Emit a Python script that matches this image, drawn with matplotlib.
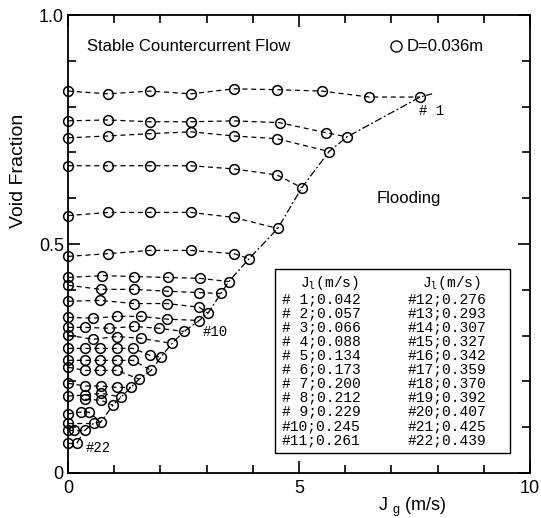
import matplotlib.pyplot as plt
from matplotlib.ticker import MultipleLocator, FixedLocator, FixedFormatter

# gas flux Jg (m/s) and void fraction for each liquid flux run
jg1 = [0, 0.87, 1.77, 2.66, 3.59, 4.52, 5.50, 6.52, 7.62]
a1 = [0.834, 0.828, 0.834, 0.828, 0.839, 0.837, 0.834, 0.821, 0.821]
jg2 = [0, 0.87, 1.77, 2.66, 3.59, 4.58, 5.59, 6.04]
a2 = [0.769, 0.771, 0.767, 0.767, 0.769, 0.765, 0.743, 0.734]
jg3 = [0, 0.87, 1.77, 2.66, 3.59, 4.52, 5.65]
a3 = [0.732, 0.736, 0.741, 0.745, 0.736, 0.730, 0.702]
jg4 = [0, 0.87, 1.77, 2.66, 3.59, 4.52, 5.06]
a4 = [0.671, 0.671, 0.671, 0.671, 0.664, 0.651, 0.623]
jg5 = [0, 0.87, 1.77, 2.66, 3.59, 4.54]
a5 = [0.562, 0.569, 0.569, 0.569, 0.558, 0.534]
jg6 = [0, 0.87, 1.77, 2.66, 3.59, 3.92]
a6 = [0.473, 0.479, 0.486, 0.486, 0.479, 0.468]
jg7 = [0, 0.74, 1.43, 2.16, 2.86, 3.48]
a7 = [0.427, 0.431, 0.429, 0.427, 0.425, 0.418]
jg8 = [0, 0.71, 1.43, 2.14, 2.84, 3.31]
a8 = [0.410, 0.401, 0.401, 0.397, 0.394, 0.392]
jg9 = [0, 0.69, 1.43, 2.14, 2.84, 3.03]
a9 = [0.375, 0.377, 0.370, 0.370, 0.362, 0.349]
jg10 = [0, 0.54, 1.06, 1.58, 2.14, 2.84]
a10 = [0.340, 0.338, 0.342, 0.342, 0.336, 0.333]
jg11 = [0, 0.37, 0.89, 1.43, 1.97, 2.51]
a11 = [0.318, 0.318, 0.316, 0.320, 0.316, 0.309]
jg12 = [0, 0.54, 1.06, 1.58, 2.25]
a12 = [0.301, 0.292, 0.298, 0.294, 0.283]
jg13 = [0, 0.37, 0.69, 1.06, 1.41, 1.77, 2.01]
a13 = [0.272, 0.272, 0.272, 0.272, 0.272, 0.257, 0.253]
jg14 = [0, 0.37, 0.69, 1.06, 1.41, 1.80]
a14 = [0.246, 0.246, 0.246, 0.246, 0.246, 0.224]
jg15 = [0, 0.37, 0.69, 1.06, 1.54]
a15 = [0.231, 0.224, 0.224, 0.224, 0.205]
jg16 = [0, 0.37, 0.71, 1.06, 1.36]
a16 = [0.196, 0.190, 0.190, 0.187, 0.187]
jg17 = [0, 0.37, 0.71, 1.15]
a17 = [0.168, 0.170, 0.174, 0.166]
jg18 = [0.37, 0.71, 0.97]
a18 = [0.161, 0.159, 0.148]
jg19 = [0, 0.28, 0.45, 0.71]
a19 = [0.129, 0.133, 0.133, 0.111]
jg20 = [0, 0.56]
a20 = [0.109, 0.109]
jg21 = [0, 0.13, 0.37]
a21 = [0.094, 0.094, 0.094]
jg22 = [0, 0.19]
a22 = [0.065, 0.065]

# end of the flooding curve beyond run #1
flood_end_jg = 7.88
flood_end_a = 0.828

run_ids = list(range(1, 23))
jl = [0.042, 0.057, 0.066, 0.088, 0.134, 0.173, 0.200, 0.212, 0.229, 0.245, 0.261,
      0.276, 0.293, 0.307, 0.327, 0.342, 0.359, 0.370, 0.392, 0.407, 0.425, 0.439]

runs = [(jg1, a1), (jg2, a2), (jg3, a3), (jg4, a4), (jg5, a5), (jg6, a6), (jg7, a7),
        (jg8, a8), (jg9, a9), (jg10, a10), (jg11, a11), (jg12, a12), (jg13, a13),
        (jg14, a14), (jg15, a15), (jg16, a16), (jg17, a17), (jg18, a18), (jg19, a19),
        (jg20, a20), (jg21, a21), (jg22, a22)]

plt.rcParams['font.family'] = ['Liberation Sans', 'DejaVu Sans']
mono = 'Liberation Mono'

fig = plt.figure(figsize=(5.41, 5.18), dpi=100)
ax = fig.add_axes([0.1257, 0.0869, 0.854, 0.884])

for x, y in runs:
    ax.plot(x, y, color='black', lw=0.9, ls=(0, (4, 3)), marker='o', ms=7,
            mfc='none', mec='black', mew=1.1, clip_on=False, zorder=3)

# flooding curve through the last point of every run
fx = [r[0][-1] for r in runs][::-1] + [flood_end_jg]
fy = [r[1][-1] for r in runs][::-1] + [flood_end_a]
ax.plot(fx, fy, color='black', lw=0.9, ls=(0, (6, 2, 1.5, 2)), zorder=2)

ax.set_xlim(0, 10)
ax.set_ylim(0, 1)
ax.xaxis.set_major_locator(FixedLocator([0, 5, 10]))
ax.xaxis.set_major_formatter(FixedFormatter(['0', '5', '10']))
ax.xaxis.set_minor_locator(MultipleLocator(1))
ax.yaxis.set_major_locator(FixedLocator([0, 0.5, 1.0]))
ax.yaxis.set_major_formatter(FixedFormatter(['0', '0.5', '1.0']))
ax.yaxis.set_minor_locator(MultipleLocator(0.1))
ax.tick_params(which='both', direction='in', top=True, right=True, width=1.2)
ax.tick_params(which='major', length=8.5, labelsize=13)
ax.tick_params(axis='x', which='major', pad=5)
ax.tick_params(axis='y', which='major', pad=3)
ax.tick_params(which='minor', length=6)
for s in ax.spines.values():
    s.set_linewidth(1.3)

ax.set_ylabel('Void Fraction', fontsize=14)
ax.yaxis.set_label_coords(-0.089, 0.66)
ax.set_xlabel(r'J $_\mathregular{g}$ (m/s)', fontsize=13)
ax.xaxis.set_label_coords(0.745, -0.05)

ax.text(0.41, 0.932, 'Stable Countercurrent Flow', fontsize=12, va='center')
ax.plot([7.1], [0.932], marker='o', ms=8, mfc='none', mec='black', mew=1.0)
ax.text(7.32, 0.932, 'D=0.036m', fontsize=12, va='center')
ax.text(6.67, 0.60, 'Flooding', fontsize=12, va='center')

ax.text(7.6, 0.79, '# 1', family=mono, fontsize=10, va='center')
ax.text(2.92, 0.308, '#10', family=mono, fontsize=10, va='center')
ax.text(0.39, 0.055, '#22', family=mono, fontsize=10, va='center')

# table of liquid fluxes
ax.add_patch(plt.Rectangle((4.48, 0.044), 5.09, 0.401, fill=False, lw=1.0,
                           ec='black', zorder=4))
head = r'J$_\mathtt{l}$(m/s)'
ax.text(5.02, 0.415, head, family=mono, fontsize=10.5, va='center')
ax.text(7.66, 0.415, head, family=mono, fontsize=10.5, va='center')
for k, (rid, v) in enumerate(zip(run_ids, jl)):
    col = k // 11
    row = k % 11
    ax.text([4.63, 7.34][col], 0.380 - row * 0.0308, f'#{rid:2d};{v:.3f}',
            family=mono, fontsize=10.5, va='center')

fig.savefig('out.png', dpi=100)
